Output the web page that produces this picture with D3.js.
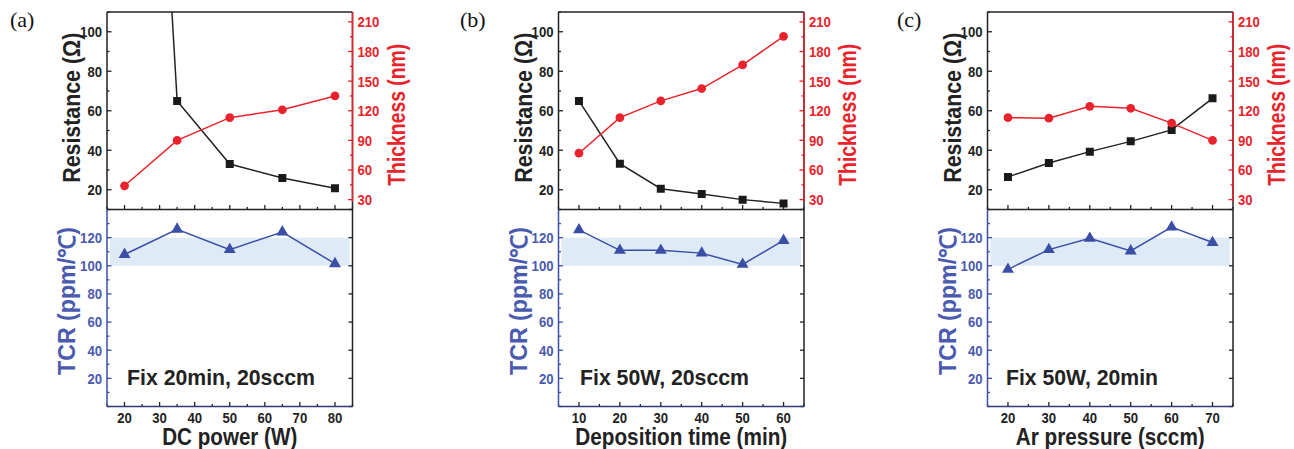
<!DOCTYPE html>
<html>
<head>
<meta charset="utf-8">
<script src="https://cdnjs.cloudflare.com/ajax/libs/d3/7.8.5/d3.min.js"></script>
<style>
  body { margin: 0; background: #fff; }
  svg text { font-family: "Liberation Sans", Arial, sans-serif; font-weight: bold; }
  .plabel { font-family: "Liberation Serif", "Times New Roman", serif; font-weight: normal; }
</style>
</head>
<body>
<script>
// (a) vary DC power
var powerW = [20, 35, 50, 65, 80];
var resA = [520, 65, 33, 26, 20.8];
var thickA = [44, 90, 113, 121, 135];
var tcrA = [108, 126, 111.5, 124, 101.5];

// (b) vary deposition time
var timeMin = [10, 20, 30, 40, 50, 60];
var resB = [65, 33.2, 20.5, 17.9, 15.0, 13.1];
var thickB = [77, 113, 130, 142.5, 166.4, 195.3];
var tcrB = [125.5, 111, 111, 109, 101, 118];

// (c) vary Ar pressure
var arSccm = [20, 30, 40, 50, 60, 70];
var resC = [26.5, 33.5, 39.3, 44.5, 50.3, 66.3];
var thickC = [113, 112.5, 124.5, 122.5, 107.5, 90];
var tcrC = [97.5, 111.5, 119.5, 110.5, 127.5, 116.5];

// axes
var resTicks = [20, 40, 60, 80, 100];
var thickTicks = [30, 60, 90, 120, 150, 180, 210];
var tcrTicks = [20, 40, 60, 80, 100, 120];
var tcrBand = [100, 120];

var panels = [
  {tag: "(a)", x: powerW, res: resA, thick: thickA, tcr: tcrA, xdom: [15, 85],
   xticks: [20, 30, 40, 50, 60, 70, 80], xtitle: "DC power (W)", note: "Fix 20min, 20sccm"},
  {tag: "(b)", x: timeMin, res: resB, thick: thickB, tcr: tcrB, xdom: [5, 65],
   xticks: [10, 20, 30, 40, 50, 60], xtitle: "Deposition time (min)", note: "Fix 50W, 20sccm"},
  {tag: "(c)", x: arSccm, res: resC, thick: thickC, tcr: tcrC, xdom: [15, 75],
   xticks: [20, 30, 40, 50, 60, 70], xtitle: "Ar pressure (sccm)", note: "Fix 50W, 20min"}
];

// positions and measured text lengths
var layout = [
  {left: 107, tagX: 10, noteDx: 20, xtitleLen: 135, noteLen: 188},
  {left: 558.5, tagX: 460, noteDx: 21.5, xtitleLen: 212, noteLen: 169},
  {left: 987.5, tagX: 897, noteDx: 18.5, xtitleLen: 189, noteLen: 152}
];

var W = 1294, H = 449;
var pw = 245.5, yTop = 12, yMid = 209.5, yBot = 406.5;
var RED = "#e8232b", BLUE = "#3b4ea6", BLUEL = "#4a5aae", INK = "#222";
var DIGIT = 7.3;

var svg = d3.select("body").append("svg")
    .attr("width", W)
    .attr("height", H);

function stepTicks(dom, step) {
  var out = [];
  for (var v = Math.ceil(dom[0] / step) * step; v <= dom[1] + 1e-9; v += step) out.push(v);
  return out;
}

function squeeze(sel, len) {
  sel.attr("textLength", len).attr("lengthAdjust", "spacingAndGlyphs");
}

panels.forEach(function(p, i) {
  var L = layout[i];
  var left = L.left, right = L.left + pw;
  var g = svg.append("g");

  var x = d3.scaleLinear().domain(p.xdom).range([left, right]);
  var yR = d3.scaleLinear().domain([10, 110]).range([yMid, yTop]);
  var yT = d3.scaleLinear().domain([20, 220]).range([yMid, yTop]);
  var yC = d3.scaleLinear().domain([0, 140]).range([yBot, yMid]);

  g.append("text").attr("class", "plabel")
    .attr("x", L.tagX).attr("y", 27)
    .style("font-size", "22px").attr("fill", "#111")
    .text(p.tag);

  // clip for the top plot
  var cid = "clip" + i;
  g.append("clipPath").attr("id", cid).append("rect")
    .attr("x", left).attr("y", yTop).attr("width", pw).attr("height", yMid - yTop);

  // shaded band
  g.append("rect")
    .attr("x", left + 3).attr("width", pw - 6)
    .attr("y", yC(tcrBand[1])).attr("height", yC(tcrBand[0]) - yC(tcrBand[1]))
    .attr("fill", "#deeaf6");

  // x ticks on the top plot bottom and the bottom plot bottom
  var minor = stepTicks(p.xdom, 5);
  [yMid, yBot].forEach(function(yy) {
    g.selectAll(null).data(minor).enter().append("line")
      .attr("x1", function(d) { return x(d); }).attr("x2", function(d) { return x(d); })
      .attr("y1", yy)
      .attr("y2", function(d) { return yy - (p.xticks.indexOf(d) >= 0 ? 4.5 : 2.5); })
      .attr("stroke", INK).attr("stroke-width", 1.3);
  });

  // left resistance ticks
  g.selectAll(null).data(stepTicks([10, 110], 10)).enter().append("line")
    .attr("x1", left).attr("x2", function(d) { return left + (resTicks.indexOf(d) >= 0 ? 4.5 : 2.5); })
    .attr("y1", function(d) { return yR(d); }).attr("y2", function(d) { return yR(d); })
    .attr("stroke", INK).attr("stroke-width", 1.3);
  g.selectAll(null).data(resTicks).enter().append("text")
    .attr("x", left - 5).attr("y", function(d) { return yR(d); })
    .attr("dy", "0.36em").attr("text-anchor", "end")
    .style("font-size", "15px").attr("fill", INK)
    .text(function(d) { return d; })
    .each(function(d) { squeeze(d3.select(this), String(d).length * DIGIT); });

  // right thickness ticks
  g.selectAll(null).data(stepTicks([30, 215], 15)).enter().append("line")
    .attr("x1", right).attr("x2", function(d) { return right - (thickTicks.indexOf(d) >= 0 ? 4.5 : 2.5); })
    .attr("y1", function(d) { return yT(d); }).attr("y2", function(d) { return yT(d); })
    .attr("stroke", RED).attr("stroke-width", 1.3);
  g.selectAll(null).data(thickTicks).enter().append("text")
    .attr("x", right + 5).attr("y", function(d) { return yT(d); })
    .attr("dy", "0.36em")
    .style("font-size", "15px").attr("fill", RED)
    .text(function(d) { return d; })
    .each(function(d) { squeeze(d3.select(this), String(d).length * DIGIT); });

  // TCR ticks
  g.selectAll(null).data(stepTicks([0, 140], 10)).enter().append("line")
    .attr("x1", left).attr("x2", function(d) { return left + (tcrTicks.indexOf(d) >= 0 ? 4.5 : 2.5); })
    .attr("y1", function(d) { return yC(d); }).attr("y2", function(d) { return yC(d); })
    .attr("stroke", BLUE).attr("stroke-width", 1.3);
  g.selectAll(null).data(stepTicks([0, 140], 20)).enter().append("line")
    .attr("x1", right).attr("x2", right - 4)
    .attr("y1", function(d) { return yC(d); }).attr("y2", function(d) { return yC(d); })
    .attr("stroke", INK).attr("stroke-width", 1.3);
  g.selectAll(null).data(tcrTicks).enter().append("text")
    .attr("x", left - 5).attr("y", function(d) { return yC(d); })
    .attr("dy", "0.36em").attr("text-anchor", "end")
    .style("font-size", "15px").attr("fill", BLUEL)
    .text(function(d) { return d; })
    .each(function(d) { squeeze(d3.select(this), String(d).length * DIGIT); });

  // x tick labels
  g.selectAll(null).data(p.xticks).enter().append("text")
    .attr("x", function(d) { return x(d); }).attr("y", 423)
    .attr("text-anchor", "middle")
    .style("font-size", "15px").attr("fill", INK)
    .text(function(d) { return d; })
    .each(function(d) { squeeze(d3.select(this), String(d).length * DIGIT); });

  // frames
  g.append("line").attr("x1", left).attr("x2", right).attr("y1", yTop).attr("y2", yTop)
    .attr("stroke", INK).attr("stroke-width", 1.5);
  g.append("line").attr("x1", left).attr("x2", right).attr("y1", yMid).attr("y2", yMid)
    .attr("stroke", INK).attr("stroke-width", 1.5);
  g.append("line").attr("x1", left).attr("x2", right).attr("y1", yBot).attr("y2", yBot)
    .attr("stroke", "#2d3a7a").attr("stroke-width", 1.5);
  g.append("line").attr("x1", left).attr("x2", left).attr("y1", yTop).attr("y2", yMid)
    .attr("stroke", INK).attr("stroke-width", 1.5);
  g.append("line").attr("x1", left).attr("x2", left).attr("y1", yMid).attr("y2", yBot)
    .attr("stroke", BLUE).attr("stroke-width", 1.5);
  g.append("line").attr("x1", right).attr("x2", right).attr("y1", yTop).attr("y2", yBot)
    .attr("stroke", INK).attr("stroke-width", 1.5);
  g.append("line").attr("x1", right).attr("x2", right).attr("y1", yTop).attr("y2", yT(28))
    .attr("stroke", RED).attr("stroke-width", 1.5);

  // series
  var gc = g.append("g").attr("clip-path", "url(#" + cid + ")");
  var resPts = p.x.map(function(d, k) { return [x(d), yR(p.res[k])]; });
  var thPts = p.x.map(function(d, k) { return [x(d), yT(p.thick[k])]; });
  var tcPts = p.x.map(function(d, k) { return [x(d), yC(p.tcr[k])]; });

  gc.append("path").attr("d", d3.line()(resPts))
    .attr("fill", "none").attr("stroke", INK).attr("stroke-width", 1.5);
  gc.selectAll(null).data(resPts).enter().append("path")
    .attr("d", d3.symbol(d3.symbolSquare, 64))
    .attr("transform", function(d) { return "translate(" + d + ")"; })
    .attr("fill", "#1a1a1a");

  gc.append("path").attr("d", d3.line()(thPts))
    .attr("fill", "none").attr("stroke", RED).attr("stroke-width", 1.5);
  gc.selectAll(null).data(thPts).enter().append("path")
    .attr("d", d3.symbol(d3.symbolCircle, 60))
    .attr("transform", function(d) { return "translate(" + d + ")"; })
    .attr("fill", RED);

  g.append("path").attr("d", d3.line()(tcPts))
    .attr("fill", "none").attr("stroke", BLUE).attr("stroke-width", 1.5);
  g.selectAll(null).data(tcPts).enter().append("path")
    .attr("d", d3.symbol(d3.symbolTriangle, 62))
    .attr("transform", function(d) { return "translate(" + d + ")"; })
    .attr("fill", BLUE);

  // titles
  g.append("text")
    .attr("transform", "translate(" + (left - 35) + "," + ((yTop + yMid) / 2 - 3) + ") rotate(-90)")
    .attr("text-anchor", "middle").attr("dy", "0.36em")
    .style("font-size", "23px").attr("fill", INK)
    .text("Resistance (Ω)")
    .call(squeeze, 150);
  g.append("text")
    .attr("transform", "translate(" + (right + 44) + "," + ((yTop + yMid) / 2 + 4) + ") rotate(-90)")
    .attr("text-anchor", "middle").attr("dy", "0.36em")
    .style("font-size", "23px").attr("fill", RED)
    .text("Thickness (nm)")
    .call(squeeze, 142);
  g.append("text")
    .attr("transform", "translate(" + (left - 40) + "," + ((yMid + yBot) / 2 - 7) + ") rotate(-90)")
    .attr("text-anchor", "middle").attr("dy", "0.36em")
    .style("font-size", "23px").attr("fill", BLUEL)
    .text("TCR (ppm/℃)")
    .call(squeeze, 148);

  g.append("text")
    .attr("x", (left + right) / 2).attr("y", 445)
    .attr("text-anchor", "middle")
    .style("font-size", "23px").attr("fill", INK)
    .text(p.xtitle)
    .call(squeeze, L.xtitleLen);

  g.append("text")
    .attr("x", left + L.noteDx).attr("y", 385)
    .style("font-size", "22px").attr("fill", INK)
    .text(p.note)
    .call(squeeze, L.noteLen);
});
</script>
</body>
</html>
